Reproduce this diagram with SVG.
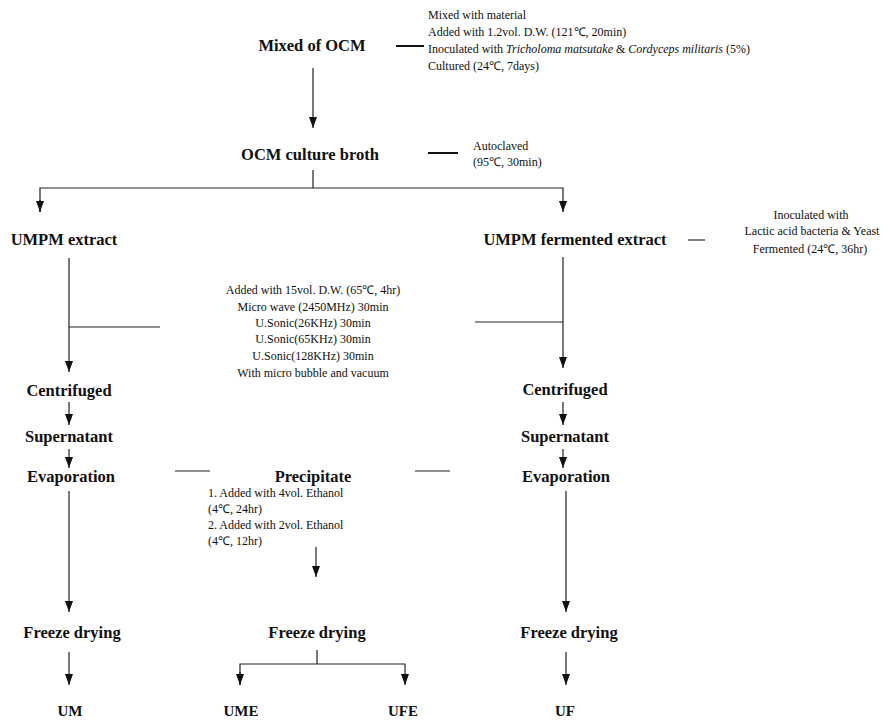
<svg xmlns="http://www.w3.org/2000/svg" width="893" height="722" viewBox="0 0 893 722">
<defs>
<style>
.n{font-family:"Liberation Serif","Times New Roman",serif;font-weight:bold;font-size:16.5px;fill:#111;text-anchor:middle}
.p{font-family:"Liberation Serif","Times New Roman",serif;font-weight:bold;font-size:15px;fill:#111;text-anchor:middle}
.s{font-family:"Liberation Serif","Times New Roman",serif;font-size:12px;fill:#111}
.c{text-anchor:middle}
.l{stroke:#222;stroke-width:1.2;fill:none}
.d{stroke:#111;stroke-width:2;fill:none}
</style>
<marker id="av" viewBox="0 0 8 11" refX="4" refY="11" markerWidth="8" markerHeight="11" markerUnits="userSpaceOnUse" orient="0">
<path d="M0,0 L8,0 L4,11 Z" fill="#111"/>
</marker>
</defs>
<g id="connectors">
<line class="l" x1="313" y1="68" x2="313" y2="128" marker-end="url(#av)"/>
<line class="l" x1="313" y1="170" x2="313" y2="188"/>
<polyline class="l" points="40,212 40,188 563,188 563,212" marker-end="url(#av)"/>
<line class="l" x1="40" y1="200" x2="40" y2="212" marker-end="url(#av)"/>
<line class="l" x1="69" y1="258" x2="69" y2="372" marker-end="url(#av)"/>
<line class="l" x1="69" y1="327" x2="160" y2="327"/>
<line class="l" x1="563" y1="257" x2="563" y2="368" marker-end="url(#av)"/>
<line class="l" x1="475" y1="322" x2="563" y2="322"/>
<line class="l" x1="69" y1="402" x2="69" y2="425" marker-end="url(#av)"/>
<line class="l" x1="563" y1="402" x2="563" y2="425" marker-end="url(#av)"/>
<line class="l" x1="69" y1="449" x2="69" y2="468" marker-end="url(#av)"/>
<line class="l" x1="563" y1="449" x2="563" y2="468" marker-end="url(#av)"/>
<line class="l" x1="69" y1="491" x2="69" y2="612" marker-end="url(#av)"/>
<line class="l" x1="566" y1="491" x2="566" y2="612" marker-end="url(#av)"/>
<line class="l" x1="316" y1="547" x2="316" y2="577" marker-end="url(#av)"/>
<line class="l" x1="69" y1="652" x2="69" y2="685" marker-end="url(#av)"/>
<line class="l" x1="566" y1="652" x2="566" y2="685" marker-end="url(#av)"/>
<line class="l" x1="317" y1="650" x2="317" y2="664"/>
<polyline class="l" points="240,685 240,664 405,664 405,685" marker-end="url(#av)"/>
<line class="l" x1="240" y1="672" x2="240" y2="685" marker-end="url(#av)"/>
<line class="d" x1="396" y1="46" x2="424" y2="46"/>
<line class="d" x1="428" y1="153" x2="458" y2="153"/>
<line class="l" x1="688" y1="240" x2="705" y2="240"/>
<line class="l" x1="175" y1="471" x2="210" y2="471"/>
<line class="l" x1="415" y1="471" x2="450" y2="471"/>
</g>
<g id="mixed"><text class="n" x="312" y="51">Mixed of OCM</text></g>
<g id="mixed-note"><text class="s" x="428" y="19">Mixed with material</text>
<text class="s" x="428" y="36">Added with 1.2vol. D.W. (121℃, 20min)</text>
<text class="s" x="428" y="53">Inoculated with <tspan font-style="italic">Tricholoma matsutake</tspan> &amp; <tspan font-style="italic">Cordyceps militaris</tspan> (5%)</text>
<text class="s" x="428" y="70">Cultured (24℃, 7days)</text></g>
<g id="broth"><text class="n" x="310" y="160">OCM culture broth</text></g>
<g id="broth-note"><text class="s" x="473" y="150">Autoclaved</text><text class="s" x="473" y="166">(95℃, 30min)</text></g>
<g id="umpm"><text class="n" x="64" y="245">UMPM extract</text></g>
<g id="umpmf"><text class="n" x="575" y="245">UMPM fermented extract</text></g>
<g id="umpmf-note"><text class="s c" x="811" y="219">Inoculated with</text><text class="s c" x="812" y="235">Lactic  acid bacteria &amp; Yeast</text><text class="s c" x="810" y="253">Fermented (24℃, 36hr)</text></g>
<g id="extract-note">
<text class="s c" x="313" y="294">Added with 15vol. D.W. (65℃, 4hr)</text>
<text class="s c" x="313" y="311">Micro wave (2450MHz) 30min</text>
<text class="s c" x="313" y="327">U.Sonic(26KHz) 30min</text>
<text class="s c" x="313" y="343">U.Sonic(65KHz) 30min</text>
<text class="s c" x="313" y="360">U.Sonic(128KHz) 30min</text>
<text class="s c" x="313" y="377">With micro bubble and vacuum</text></g>
<g id="cent-l"><text class="n" x="69" y="396">Centrifuged</text></g>
<g id="cent-r"><text class="n" x="565" y="395">Centrifuged</text></g>
<g id="sup-l"><text class="n" x="69" y="442">Supernatant</text></g>
<g id="sup-r"><text class="n" x="565" y="442">Supernatant</text></g>
<g id="evap-l"><text class="n" x="71" y="482">Evaporation</text></g>
<g id="evap-r"><text class="n" x="566" y="482">Evaporation</text></g>
<g id="precip"><text class="n" x="313" y="482">Precipitate</text>
<text class="s" x="208" y="497">1. Added with 4vol. Ethanol</text>
<text class="s" x="208" y="513">(4℃, 24hr)</text>
<text class="s" x="208" y="529">2. Added with 2vol. Ethanol</text>
<text class="s" x="208" y="545">(4℃, 12hr)</text></g>
<g id="fd-l"><text class="n" x="72" y="638">Freeze drying</text></g>
<g id="fd-m"><text class="n" x="317" y="638">Freeze drying</text></g>
<g id="fd-r"><text class="n" x="569" y="638">Freeze drying</text></g>
<g id="um"><text class="p" x="70" y="716">UM</text></g>
<g id="ume"><text class="p" x="241" y="716">UME</text></g>
<g id="ufe"><text class="p" x="403" y="716">UFE</text></g>
<g id="uf"><text class="p" x="565" y="716">UF</text></g>
</svg>
